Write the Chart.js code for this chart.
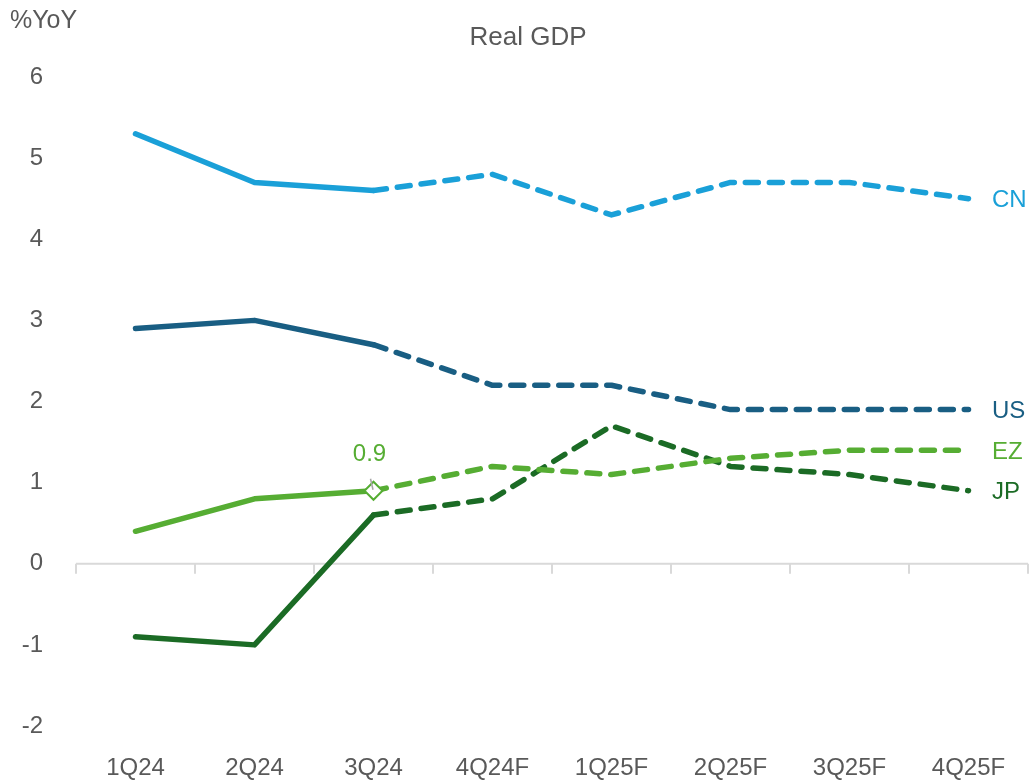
<!DOCTYPE html>
<html>
<head>
<meta charset="utf-8">
<script src="https://cdn.jsdelivr.net/npm/chart.js@4.4.1/dist/chart.umd.min.js"></script>
<style>
  html, body { margin: 0; padding: 0; background: #fff; }
  #wrap { width: 1030px; height: 780px; position: relative; }
</style>
</head>
<body>
<div id="wrap"><canvas id="c" width="1030" height="780"></canvas></div>
<script>
const categories = ["1Q24", "2Q24", "3Q24", "4Q24F", "1Q25F", "2Q25F", "3Q25F", "4Q25F"];
const cnValues = [5.3, 4.7, 4.6, 4.8, 4.3, 4.7, 4.7, 4.5];
const usValues = [2.9, 3.0, 2.7, 2.2, 2.2, 1.9, 1.9, 1.9];
const ezValues = [0.4, 0.8, 0.9, 1.2, 1.1, 1.3, 1.4, 1.4];
const jpValues = [-0.9, -1.0, 0.6, 0.8, 1.7, 1.2, 1.1, 0.9];
const yTicks = [-2, -1, 0, 1, 2, 3, 4, 5, 6];
const seriesNames = ["CN", "US", "EZ", "JP"];
const lastActualIndex = 2;
const annotatedValue = ezValues[lastActualIndex];

const FONT = "'Liberation Sans', Arial, Helvetica, sans-serif";
const TXT = "#595959";
const colors = { CN: "#1AA0D8", US: "#195E83", EZ: "#56AD33", JP: "#1B6B25" };
const DASH = [13, 11];

function mkDataset(name, values) {
  return {
    label: name,
    data: values,
    borderColor: colors[name],
    backgroundColor: colors[name],
    borderWidth: 5.5,
    borderCapStyle: 'round',
    borderJoinStyle: 'round',
    pointRadius: 0,
    pointHoverRadius: 0,
    tension: 0,
    segment: {
      borderDash: ctx => ctx.p0DataIndex >= lastActualIndex ? DASH : undefined
    }
  };
}

const datasets = [
  mkDataset("CN", cnValues),
  mkDataset("US", usValues),
  mkDataset("EZ", ezValues),
  mkDataset("JP", jpValues)
];
datasets[2].pointStyle = 'rectRot';
datasets[2].pointRadius = ctx => ctx.dataIndex === lastActualIndex ? 9 : 0;
datasets[2].pointBackgroundColor = '#ffffff';
datasets[2].pointBorderColor = colors.EZ;
datasets[2].pointBorderWidth = 2;

const decor = {
  id: 'decor',
  beforeDatasetsDraw(chart) {
    const { ctx, chartArea, scales } = chart;
    const x = scales.x, y = scales.y;
    const y0 = y.getPixelForValue(0);
    ctx.save();
    ctx.strokeStyle = '#d9d9d9';
    ctx.lineWidth = 2;
    ctx.beginPath();
    ctx.moveTo(chartArea.left, y0);
    ctx.lineTo(chartArea.right, y0);
    const n = categories.length;
    const step = x.getPixelForValue(1) - x.getPixelForValue(0);
    for (let i = 0; i <= n; i++) {
      const px = x.getPixelForValue(i) - step / 2;
      ctx.moveTo(px, y0);
      ctx.lineTo(px, y0 + 10);
    }
    ctx.stroke();
    ctx.restore();
  },
  afterDatasetsDraw(chart) {
    const { ctx, scales } = chart;
    const x = scales.x, y = scales.y;
    ctx.save();
    ctx.fillStyle = TXT;
    ctx.textBaseline = 'middle';
    ctx.textAlign = 'center';
    ctx.font = "26px " + FONT;
    ctx.fillText("Real GDP", 528, 38);
    ctx.textAlign = 'left';
    ctx.font = "25px " + FONT;
    ctx.fillText("%YoY", 10, 21);
    ctx.font = "24px " + FONT;
    const lastIdx = categories.length - 1;
    const labelY = { CN: cnValues[lastIdx], US: usValues[lastIdx], EZ: ezValues[lastIdx], JP: jpValues[lastIdx] };
    seriesNames.forEach(nm => {
      ctx.fillStyle = colors[nm];
      ctx.fillText(nm, 992, y.getPixelForValue(labelY[nm]) + 2);
    });
    const px = x.getPixelForValue(lastActualIndex);
    const py = y.getPixelForValue(annotatedValue);
    ctx.strokeStyle = '#a6a6a6';
    ctx.lineWidth = 1.5;
    ctx.beginPath();
    ctx.moveTo(px - 3, py - 12);
    ctx.lineTo(px - 0.5, py - 1);
    ctx.stroke();
    ctx.fillStyle = colors.EZ;
    ctx.textAlign = 'center';
    ctx.font = "24px " + FONT;
    ctx.fillText(String(annotatedValue), px - 4, py - 36);
    ctx.restore();
  }
};

new Chart(document.getElementById('c'), {
  type: 'line',
  data: { labels: categories, datasets },
  options: {
    responsive: false,
    animation: false,
    devicePixelRatio: 1,
    layout: { padding: { top: 77, right: 2, left: 0, bottom: 0 } },
    plugins: { legend: { display: false }, tooltip: { enabled: false }, title: { display: false } },
    scales: {
      x: {
        offset: true,
        grid: { display: false, drawTicks: false },
        border: { display: false },
        afterFit: s => { s.height = 54; s.paddingLeft = 0; s.paddingRight = 0; },
        ticks: { color: TXT, font: { family: FONT, size: 24 }, padding: 28, maxRotation: 0, autoSkip: false }
      },
      y: {
        min: -2,
        max: 6,
        afterBuildTicks: axis => { axis.ticks = yTicks.map(v => ({ value: v })); },
        afterFit: s => { s.width = 76; },
        grid: { display: false, drawTicks: false },
        border: { display: false },
        ticks: { color: TXT, font: { family: FONT, size: 24 }, padding: 33 }
      }
    }
  },
  plugins: [decor]
});
</script>
</body>
</html>
